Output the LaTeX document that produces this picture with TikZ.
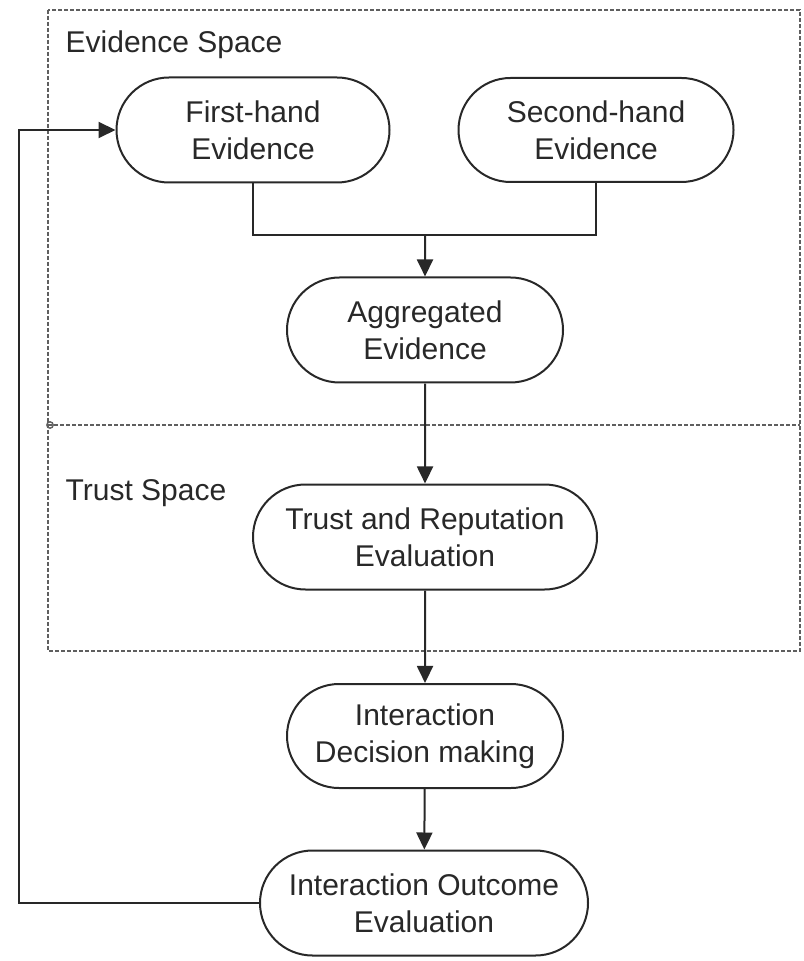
\documentclass[tikz,border=0pt]{standalone}
\usepackage{fontspec}
\setmainfont{Liberation Sans}
\usetikzlibrary{shapes.misc}
\usetikzlibrary{arrows.meta}
\definecolor{frame}{RGB}{95,95,95}
\definecolor{ink}{RGB}{40,40,40}

\begin{document}
\begin{tikzpicture}[x=0.5pt, y=-0.5pt, >={Triangle[length=8.5pt,width=8pt]}, line width=1pt, ink,
	box/.style={draw, rounded rectangle, align=center, inner sep=0pt, font=\fontsize{15}{18.5}\selectfont},
	space/.style={frame, dash pattern=on 2pt off 1pt, line width=0.9pt}]
	\useasboundingbox (0,0) rectangle (803,961);

	% the two spaces
	\draw[space] (48,10) rectangle (800,651);
	\draw[space] (48,425) -- (800,425);
	\draw[frame, line width=0.7pt] (50,425) circle (1.6pt);
	\node[anchor=west, font=\fontsize{15}{18}\selectfont] (evspace) at (58,45) {Evidence Space};
	\node[anchor=west, font=\fontsize{15}{18}\selectfont] (trspace) at (58,493) {Trust Space};

	\node[box, minimum width=136.5pt, minimum height=52.5pt] (first) at (253,130) {First-hand\\Evidence};
	\node[box, minimum width=137.5pt, minimum height=52pt] (second) at (596,130) {Second-hand\\Evidence};
	\node[box, minimum width=138pt, minimum height=52.5pt] (aggr) at (425,330) {Aggregated\\Evidence};
	\node[box, minimum width=172pt, minimum height=52.5pt] (trust) at (425,537) {Trust and Reputation\\Evaluation};
	\node[box, minimum width=138pt, minimum height=52pt] (decide) at (425,736) {Interaction\\Decision making};
	\node[box, minimum width=164pt, minimum height=52.5pt] (outcome) at (424,903) {Interaction Outcome\\Evaluation};

	\coordinate (join) at (425,235);
	\draw (first.south) |- (join) -| (second.south);
	\draw[->] (join) -- (aggr);
	\draw[->] (aggr) -- (trust);
	\draw[->] (trust) -- (decide);
	\draw[->] (decide) -- (outcome);
	% feedback loop
	\draw[->] (outcome.west) -- ++(-240,0) |- (first.west);
\end{tikzpicture}
\end{document}
